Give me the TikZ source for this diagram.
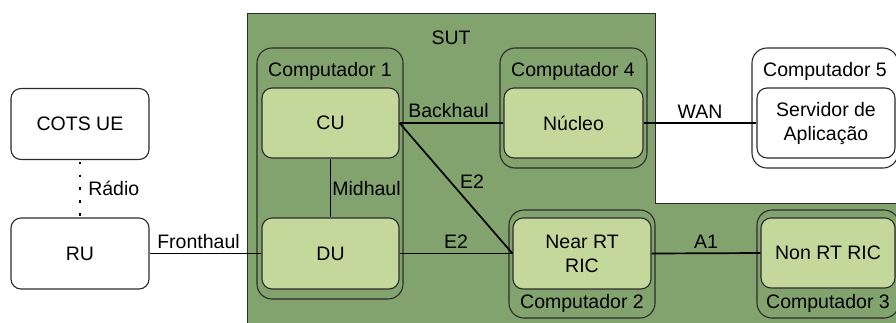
\documentclass[tikz,border=0pt]{standalone}
\usepackage{fontspec}
\setmainfont{Liberation Sans}
\definecolor{sutgreen}{HTML}{82A36D}
\definecolor{boxgreen}{HTML}{C5D89B}
\definecolor{edgegray}{HTML}{2B2B2B}
\begin{document}
\begin{tikzpicture}[x=1pt,y=-1pt,
  font=\fontsize{19.5}{24}\selectfont,
  host/.style={draw=edgegray, line width=1.1pt, rounded corners=15pt, inner sep=0pt},
  unit/.style={draw=edgegray, line width=1.1pt, rounded corners=10pt, fill=boxgreen,
               inner sep=0pt, align=center},
  plain/.style={unit, fill=white},
  link/.style={line width=1.7pt, black},
  tag/.style={inner sep=1pt},
]
\useasboundingbox (0,0) rectangle (896,322);

% system under test region
\path[fill=sutgreen, draw=edgegray, line width=0.8pt]
  (247,13) -- (655,13) -- (655,203) -- (900,203) -- (900,326) -- (247,326) -- cycle;
\node (sut) at (451,38) {SUT};

% host machines
\node[host, minimum width=146pt, minimum height=251pt] (pc1) at (330,173.5) {};
\node[host, minimum width=147pt, minimum height=120pt] (pc4) at (573.5,108) {};
\node[host, fill=white, minimum width=146pt, minimum height=120pt] (pc5) at (825,108) {};
\node[host, minimum width=146pt, minimum height=108pt] (pc2) at (582,264) {};
\node[host, minimum width=142pt, minimum height=108pt] (pc3) at (828,264) {};

\node (pc1lab) at (330,71) {Computador 1};
\node (pc4lab) at (573,71) {Computador 4};
\node (pc5lab) at (825,71) {Computador 5};
\node (pc2lab) at (582,303) {Computador 2};
\node (pc3lab) at (828,303) {Computador 3};

% functional units
\node[plain, minimum width=138pt, minimum height=71pt] (ue) at (80,124) {COTS UE};
\node[plain, minimum width=138pt, minimum height=71pt] (ru) at (80,253.5) {RU};
\node[unit, minimum width=137pt, minimum height=70pt] (cu) at (330.5,123) {CU};
\node[unit, minimum width=137pt, minimum height=71pt] (du) at (330.5,253.5) {DU};
\node[unit, minimum width=139pt, minimum height=70pt] (core) at (573.5,123) {Núcleo};
\node[plain, minimum width=138pt, minimum height=70pt] (app) at (826,123) {Servidor de\\Aplicação};
\node[unit, minimum width=138pt, minimum height=71pt] (nrt) at (582,253.5) {Near RT\\RIC};
\node[unit, minimum width=134pt, minimum height=70pt] (nonrt) at (828,253) {Non RT RIC};

% interfaces
\draw[line width=2.6pt, dash pattern=on 2.6pt off 10.2pt, dash phase=11.1pt]
  (ue.south) -- node[tag, right=6pt] {Rádio} (ru.north);
\draw[link] (ru.east) -- node[tag, above, xshift=-7pt, yshift=3pt] {Fronthaul} (du.west);
\draw[link] (cu.south) -- node[tag, right, yshift=-1pt] {Midhaul} (du.north);
\draw[link] (cu.east) -- node[tag, above, xshift=-3pt, yshift=3pt] {Backhaul} (core.west);
\draw[link] (cu.east) -- node[tag, pos=0.45, right=8pt] {E2} (nrt.west);
\draw[link] (du.east) -- node[tag, above, yshift=3pt] {E2} (nrt.west);
\draw[link] (core.east) -- node[tag, above, yshift=3pt] {WAN} (app.west);
\draw[link] (nrt.east) -- node[tag, above, yshift=3pt] {A1} (nonrt.west);
\end{tikzpicture}
\end{document}
